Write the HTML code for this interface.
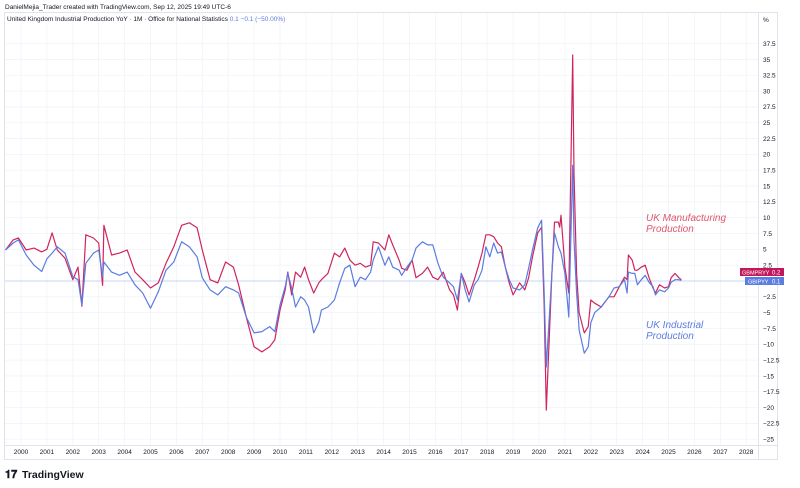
<!DOCTYPE html>
<html><head><meta charset="utf-8"><style>
body{margin:0;background:#fff;font-family:"Liberation Sans",sans-serif}
svg{display:block}
</style></head><body>
<svg id="c" width="800" height="488" viewBox="0 0 800 488">
<text x="5" y="9" font-size="6.5" fill="#131722">DanielMejia_Trader created with TradingView.com, Sep 12, 2025 19:49 UTC-6</text>
<rect x="4.5" y="12.5" width="773" height="447" fill="none" stroke="#e0e3eb"/>
<g id="grid"></g>
<line x1="5" y1="281" x2="758" y2="281" stroke="#b8c8f5" stroke-width="0.8"/>
<line x1="758.5" y1="12" x2="758.5" y2="460" stroke="#e0e3eb"/>
<line x1="5" y1="445.5" x2="778" y2="445.5" stroke="#e0e3eb"/>
<text x="7" y="21" font-size="6.5" fill="#131722">United Kingdom Industrial Production YoY · 1M · Office for National Statistics <tspan fill="#5b7ce0">0.1  −0.1 (−50.00%)</tspan></text>
<text x="763" y="22" font-size="6.5" fill="#131722">%</text>
<g id="yax"></g>
<g id="xax"></g>
<g id="series"></g>
<text x="646" y="221" font-size="10" font-style="italic" fill="#e0566e"><tspan x="646">UK Manufacturing</tspan><tspan x="646" dy="11">Production</tspan></text>
<text x="646" y="328" font-size="10" font-style="italic" fill="#5b7ce0"><tspan x="646">UK Industrial</tspan><tspan x="646" dy="11">Production</tspan></text>
<g>
<rect x="740" y="268" width="30" height="8" fill="#c2185b"/><text x="742" y="274.5" font-size="5.5" fill="#fff">GBMPRYY</text>
<rect x="770" y="268" width="14" height="8" fill="#c2185b"/><text x="772" y="274.5" font-size="6" fill="#fff">0.2</text></g>
<g>
<rect x="745" y="277" width="25" height="8" fill="#5b7ce0"/><text x="748" y="283.5" font-size="5.5" fill="#fff">GBIPYY</text>
<rect x="770" y="277" width="14" height="8" fill="#5b7ce0"/><text x="772" y="283.5" font-size="6" fill="#fff">0.1</text></g>
<g>
<text x="5" y="478" font-size="11" font-weight="bold" fill="#131722">𝟏𝟕</text>
<text x="22" y="478" font-size="10.5" font-weight="bold" fill="#131722">TradingView</text></g>
</svg>
<script>
const dates=[1999.4,1999.7,1999.9,2000.2,2000.5,2000.8,2001.0,2001.2,2001.4,2001.7,2002.0,2002.2,2002.35,2002.5,2002.8,2003.0,2003.15,2003.2,2003.5,2003.8,2004.1,2004.4,2004.7,2005.0,2005.3,2005.6,2005.9,2006.2,2006.5,2006.8,2007.0,2007.3,2007.6,2007.9,2008.2,2008.4,2008.7,2009.0,2009.3,2009.6,2009.8,2010.0,2010.2,2010.3,2010.45,2010.6,2010.8,2010.95,2011.1,2011.3,2011.5,2011.6,2011.85,2012.1,2012.3,2012.5,2012.7,2012.9,2013.1,2013.3,2013.5,2013.6,2013.8,2014.05,2014.2,2014.35,2014.6,2014.7,2014.9,2015.1,2015.25,2015.5,2015.7,2015.9,2016.1,2016.3,2016.55,2016.7,2016.85,2017.0,2017.15,2017.3,2017.5,2017.65,2017.8,2017.95,2018.1,2018.25,2018.4,2018.55,2018.7,2018.85,2019.0,2019.25,2019.45,2019.6,2019.75,2019.95,2020.1,2020.2,2020.28,2020.5,2020.6,2020.75,2020.8,2020.85,2021.0,2021.15,2021.3,2021.35,2021.45,2021.55,2021.75,2021.9,2022.0,2022.15,2022.4,2022.7,2022.9,2023.1,2023.3,2023.4,2023.45,2023.6,2023.7,2023.8,2023.95,2024.1,2024.25,2024.4,2024.5,2024.65,2024.85,2025.0,2025.1,2025.25,2025.4,2025.5];
const manuf=[4.9,6.5,6.8,4.9,5.2,4.6,5.0,7.6,4.9,3.6,0.2,2.2,-4.0,7.3,6.8,6.0,-0.7,8.8,4.1,4.4,4.9,1.4,0.2,-1.1,-0.3,2.8,5.4,8.8,9.2,8.4,4.9,0.2,-0.3,3.0,2.2,-0.6,-5.7,-10.4,-11.2,-10.4,-9.3,-4.6,-1.4,1.4,-2.2,1.4,0.6,2.2,0.2,-1.9,-0.3,0.2,1.2,4.4,3.8,5.2,3.3,2.5,2.8,2.2,2.5,6.2,6.0,4.9,7.3,5.7,3.3,2.0,1.7,3.3,0.5,1.2,2.2,0.6,0.2,1.4,-1.4,-2.2,-4.6,1.2,-0.3,-2.2,0.2,2.2,4.4,7.3,7.3,7.0,6.0,5.4,2.2,-0.3,-2.2,-0.3,-1.4,0.5,3.8,7.6,8.5,-4.1,-20.4,1.2,9.3,9.3,8.5,10.4,2.2,-1.9,35.7,17,1.2,-5,-8.2,-7.2,-3,-3.5,-4.1,-2.5,-2.5,-0.9,0.6,0.2,4.1,3.3,1.7,1.7,2.2,2.5,0.5,-1.1,-1.9,-0.6,-1.1,-0.9,0.5,1.2,0.5,0.2];
const indus=[4.9,6.0,6.5,4.1,2.5,1.5,3.5,4.4,5.4,4.4,0.7,0.2,-3.8,2.8,4.4,4.9,0.6,3.0,1.4,0.9,1.4,-0.6,-1.9,-4.3,-1.7,1.7,3.0,6.2,5.4,3.8,0.5,-1.4,-2.2,-0.9,-1.4,-1.9,-5.7,-8.2,-8.0,-7.2,-8.0,-3.8,-0.9,1.2,-1.1,-4.1,-2.5,-3.0,-4.1,-8.2,-6.5,-4.6,-4.1,-3.0,-0.3,2.0,2.5,-0.9,0.6,0.2,1.4,3.3,5.4,2.5,3.8,2.2,1.7,0.9,2.2,3.3,5.2,6.2,5.7,5.7,2.8,0.6,-0.3,-0.9,-3.0,1.2,-1.4,-3.3,-0.6,0.2,1.7,5.4,3.8,6.0,4.4,4.6,2.2,0.2,-1.1,-1.4,-0.6,2.0,4.9,8.4,9.6,-2,-13.6,1.2,7.6,5.4,4.9,4.4,1.2,-5.7,18.3,6.5,-1.9,-7.7,-11.4,-10.4,-6.6,-5,-4.1,-2.5,-1.1,-0.9,0.2,-1.9,1.4,1.2,1.2,-0.6,0.2,0.9,-0.2,-0.9,-2.2,-1.4,-1.7,-1.1,-0.2,0.2,0.2,0.1];
const yTicks=[37.5,35,32.5,30,27.5,25,22.5,20,17.5,15,12.5,10,7.5,5,2.5,0,-2.5,-5,-7.5,-10,-12.5,-15,-17.5,-20,-22.5,-25];
const xTicks=[2000,2001,2002,2003,2004,2005,2006,2007,2008,2009,2010,2011,2012,2013,2014,2015,2016,2017,2018,2019,2020,2021,2022,2023,2024,2025,2026,2027,2028];
const NS='http://www.w3.org/2000/svg';
const X=d=>21+(d-2000)*25.9;
const Y=v=>281-v*6.33;
function mk(t,a,p){const e=document.createElementNS(NS,t);for(const k in a)e.setAttribute(k,a[k]);p.appendChild(e);return e;}
const grid=document.getElementById('grid'),yax=document.getElementById('yax'),xax=document.getElementById('xax'),ser=document.getElementById('series');
yTicks.forEach(v=>{
 const l=mk('line',{x1:5,x2:758,y1:Y(v),y2:Y(v),stroke:'#f0f3fa','stroke-width':0.8},grid);
 
 
 const t=mk('text',{x:763,y:Y(v)+2.3,'font-size':6.5,fill:'#131722'},yax);
 t.textContent=(v<0?'−'+(-v):String(v));
 
 
});
xTicks.forEach(d=>{
 const l=mk('line',{x1:X(d),x2:X(d),y1:13,y2:445,stroke:'#f0f3fa','stroke-width':0.8},grid);
 
 
 const t=mk('text',{x:X(d),y:454,'font-size':6.5,fill:'#131722','text-anchor':'middle'},xax);
 t.textContent=d;
 
 
});
function line(vals,col,name){
 const p=mk('polyline',{points:dates.map((d,i)=>X(d).toFixed(1)+','+Y(vals[i]).toFixed(1)).join(' '),fill:'none',stroke:col,'stroke-width':1.2,'stroke-linejoin':'round'},ser);
 
 
}
line(manuf,'#d0245e','manufacturing-line');
line(indus,'#5b7ce0','industrial-line');
</script>
</body></html>
